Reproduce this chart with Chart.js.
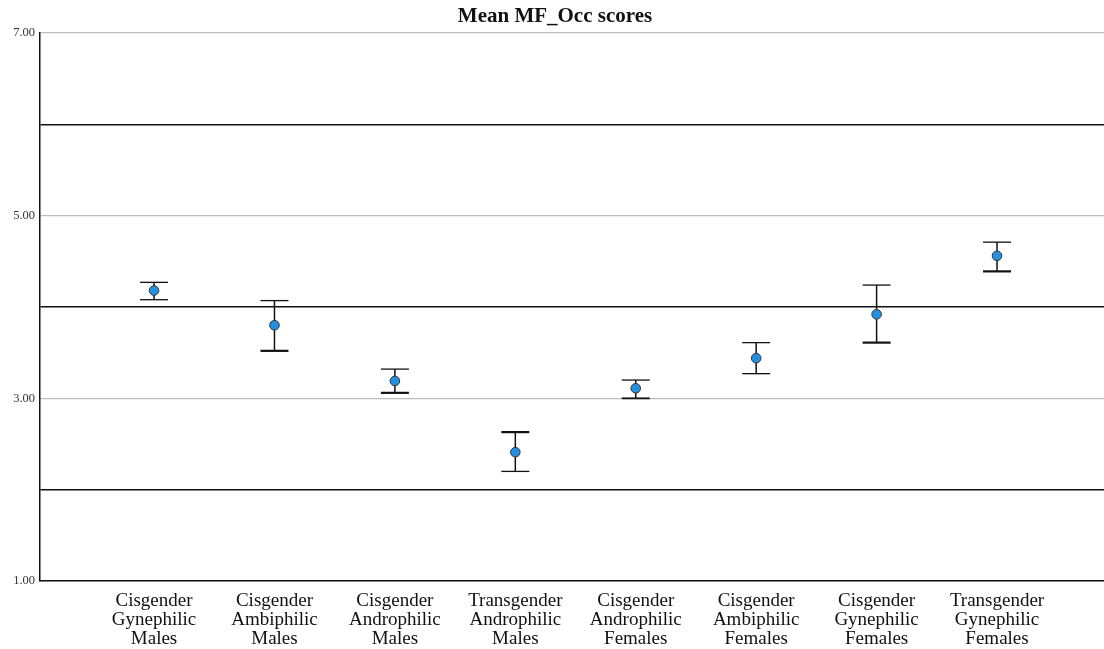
<!DOCTYPE html>
<html>
<head>
<meta charset="utf-8">
<script src="https://cdn.jsdelivr.net/npm/chart.js@4/dist/chart.umd.min.js"></script>
<style>
  html, body { margin: 0; padding: 0; background: #fff; overflow: hidden; }
  #wrap { width: 1110px; height: 649px; position: relative; }
</style>
</head>
<body>
<div id="wrap"><canvas id="c"></canvas></div>
<script>
// Group labels (each drawn over three lines)
const categories = [
  ['Cisgender', 'Gynephilic', 'Males'],
  ['Cisgender', 'Ambiphilic', 'Males'],
  ['Cisgender', 'Androphilic', 'Males'],
  ['Transgender', 'Androphilic', 'Males'],
  ['Cisgender', 'Androphilic', 'Females'],
  ['Cisgender', 'Ambiphilic', 'Females'],
  ['Cisgender', 'Gynephilic', 'Females'],
  ['Transgender', 'Gynephilic', 'Females']
];
// Mean MF_Occ score per group, with the upper and lower ends of its error bar
const means  = [4.18, 3.80, 3.19, 2.41, 3.11, 3.44, 3.92, 4.56];
const uppers = [4.27, 4.07, 3.32, 2.63, 3.20, 3.61, 4.24, 4.71];
const lowers = [4.08, 3.52, 3.06, 2.20, 3.00, 3.27, 3.61, 4.39];
// Y axis
const yTickValues = [1, 2, 3, 4, 5, 6, 7];
const yTickLabels = ['1.00', '', '3.00', '', '5.00', '', '7.00'];

// Stroke weights of the upper / lower caps
const upperCapWidth = [1.3, 1.3, 1.3, 2.2, 1.3, 1.3, 1.3, 1.3];
const lowerCapWidth = [1.3, 2.2, 2.2, 1.3, 1.8, 1.3, 2.2, 2.2];

const errorBars = {
  id: 'errorBars',
  beforeDatasetsDraw(chart) {
    const { ctx, scales: { x, y } } = chart;
    const half = 14;
    ctx.save();
    ctx.strokeStyle = '#111';
    means.forEach((m, i) => {
      const px = x.getPixelForValue(i);
      const top = y.getPixelForValue(uppers[i]);
      const bot = y.getPixelForValue(lowers[i]);
      ctx.lineWidth = 1.5;
      ctx.beginPath();
      ctx.moveTo(px, top); ctx.lineTo(px, bot);
      ctx.stroke();
      ctx.lineWidth = upperCapWidth[i];
      ctx.beginPath();
      ctx.moveTo(px - half, top); ctx.lineTo(px + half, top);
      ctx.stroke();
      ctx.lineWidth = lowerCapWidth[i];
      ctx.beginPath();
      ctx.moveTo(px - half, bot); ctx.lineTo(px + half, bot);
      ctx.stroke();
    });
    ctx.restore();
  }
};

new Chart(document.getElementById('c'), {
  type: 'scatter',
  data: {
    datasets: [{
      data: means.map((m, i) => ({ x: i, y: m })),
      backgroundColor: '#2490e0',
      borderColor: '#333',
      borderWidth: 1,
      pointRadius: 4.8,
      pointHoverRadius: 4.8
    }]
  },
  options: {
    responsive: true,
    maintainAspectRatio: false,
    animation: false,
    layout: { padding: 0 },
    plugins: {
      legend: { display: false },
      tooltip: { enabled: false },
      title: {
        display: true,
        text: 'Mean MF_Occ scores',
        color: '#111',
        font: { family: 'Liberation Serif', size: 21, weight: 'bold', lineHeight: 1.0 },
        padding: { top: 6, bottom: 6 }
      }
    },
    scales: {
      x: {
        type: 'linear',
        min: -0.947,
        max: 7.89,
        afterBuildTicks(scale) {
          scale.ticks = categories.map((c, i) => ({ value: i }));
        },
        afterFit(scale) { scale.height = 68; },
        grid: { display: false, drawTicks: false },
        border: { display: true, color: '#111', width: 1.5 },
        ticks: {
          autoSkip: false,
          maxRotation: 0,
          padding: 11,
          color: '#111',
          font: { family: 'Liberation Serif', size: 19, lineHeight: 1.0 },
          callback: (v) => categories[v]
        }
      },
      y: {
        min: 1,
        max: 7,
        afterBuildTicks(scale) {
          scale.ticks = yTickValues.map(v => ({ value: v }));
        },
        afterFit(scale) { scale.width = 40; },
        grid: {
          drawTicks: false,
          color: (c) => (c.tick && c.tick.value % 2 === 0) ? '#111' : '#bdbdbd',
          lineWidth: (c) => (c.tick && c.tick.value % 2 === 0) ? 1.5 : 1.2
        },
        border: { display: true, color: '#111', width: 1.5 },
        ticks: {
          padding: 5,
          color: '#333',
          font: { family: 'Liberation Serif', size: 12.5 },
          callback: (v) => yTickLabels[yTickValues.indexOf(v)]
        }
      }
    }
  },
  plugins: [errorBars]
});
</script>
</body>
</html>
